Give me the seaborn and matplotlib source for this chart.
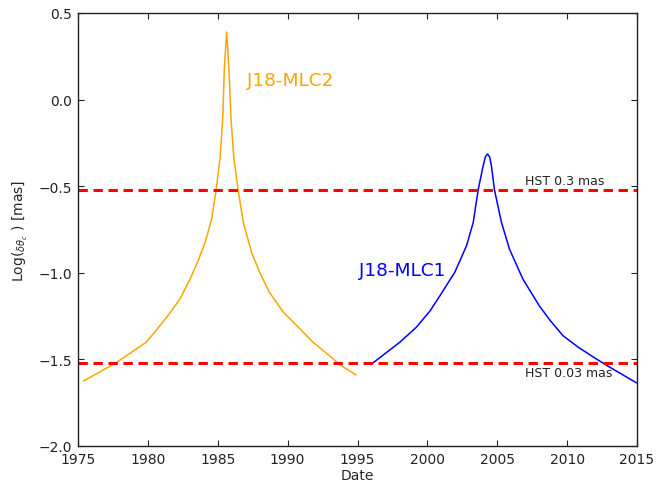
import numpy as np
import pandas as pd
import matplotlib
matplotlib.use("Agg")
import matplotlib.pyplot as plt
import seaborn as sns

# J18-MLC2 (orange) curve
mlc2_date = [1975.4, 1977.65, 1979.9, 1981.35, 1982.3, 1983.0, 1983.6, 1984.1,
             1984.57, 1984.88, 1985.16, 1985.36, 1985.47, 1985.64, 1985.8, 1985.95,
             1986.16, 1986.47, 1986.83, 1987.42, 1988.0, 1988.7, 1989.7, 1990.9,
             1991.8, 1993.0, 1993.75, 1994.9]
mlc2_log = [-1.625, -1.523, -1.40, -1.257, -1.151, -1.04, -0.93, -0.824,
            -0.689, -0.526, -0.343, -0.112, 0.177, 0.39, 0.177, -0.112,
            -0.343, -0.526, -0.709, -0.882, -0.997, -1.113, -1.228, -1.325,
            -1.40, -1.479, -1.532, -1.59]

# J18-MLC1 (blue) curve
mlc1_date = [1996.0, 1998.04, 1999.2, 2000.2, 2000.9, 2001.96, 2002.8, 2003.28,
             2003.63, 2003.99, 2004.15, 2004.3, 2004.45, 2004.58, 2004.8, 2005.3,
             2005.87, 2006.83, 2008.0, 2008.8, 2009.7, 2010.8, 2011.9, 2013.07,
             2014.97]
mlc1_log = [-1.527, -1.40, -1.315, -1.219, -1.132, -0.997, -0.844, -0.709,
            -0.522, -0.382, -0.33, -0.314, -0.33, -0.382, -0.522, -0.709,
            -0.863, -1.036, -1.19, -1.277, -1.363, -1.43, -1.488, -1.546,
            -1.636]

# HST precision limits
hst_levels = [np.log10(0.3), np.log10(0.03)]
hst_labels = ["HST 0.3 mas", "HST 0.03 mas"]

sns.set_style("ticks")
plt.rcParams["font.family"] = ["DejaVu Sans"]

fig = plt.figure(figsize=(6.72, 4.89), dpi=100)
ax = fig.add_axes([0.116, 0.0859, 0.832, 0.8855])

df2 = pd.DataFrame({"date": mlc2_date, "log": mlc2_log})
df1 = pd.DataFrame({"date": mlc1_date, "log": mlc1_log})
sns.lineplot(data=df2, x="date", y="log", color="orange", lw=1.1, ax=ax, sort=False)
sns.lineplot(data=df1, x="date", y="log", color="blue", lw=1.1, ax=ax, sort=False)

for lev in hst_levels:
    ax.axhline(lev, color="red", lw=2.2, ls="--", dashes=(3.05, 1.86))

ax.text(2007.0, hst_levels[0] + 0.035, hst_labels[0], fontsize=9, color="#222222")
ax.text(2007.0, hst_levels[1] - 0.075, hst_labels[1], fontsize=9, color="#222222")
ax.text(1987.1, 0.085, "J18-MLC2", fontsize=13.3, color="orange")
ax.text(1995.1, -1.013, "J18-MLC1", fontsize=13.3, color="blue")

ax.set_xlim(1975, 2015)
ax.set_ylim(-2.0, 0.5)
ax.set_xticks(np.arange(1975, 2016, 5))
ax.set_yticks(np.arange(-2.0, 0.51, 0.5))
ax.tick_params(direction="in", top=True, right=True, length=4, width=0.8,
               labelsize=10, colors="#222222", pad=4)
for sp in ax.spines.values():
    sp.set_color("#222222")
    sp.set_linewidth(1.0)

ax.set_xlabel("Date", fontsize=10, labelpad=2)
ax.set_ylabel(r"Log($_{\delta\theta_c}$ ) [mas]", fontsize=10, labelpad=6)

fig.savefig("out.png", dpi=100)
